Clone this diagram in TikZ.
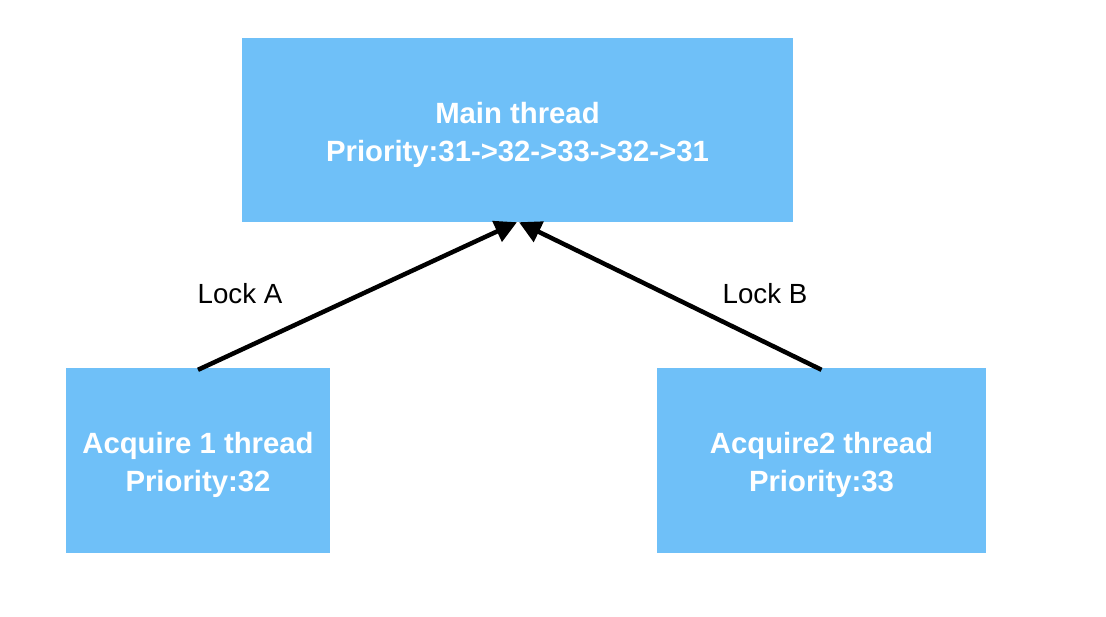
\documentclass[tikz,border=0pt]{standalone}
\usepackage{fontspec}
\setmainfont{Liberation Sans}
\usetikzlibrary{positioning, arrows.meta}
\definecolor{ThreadBlue}{RGB}{111,192,248}
\newcommand{\tstrut}{\rule{0pt}{31pt}}

\begin{document}
\begin{tikzpicture}[x=1pt, y=-1pt]
        \tikzset{ thr/.style ={fill=ThreadBlue, draw=none, text=white, align=center, font=\fontsize{29.3}{38}\selectfont\bfseries, inner sep=0pt} }
        \tikzset{ lck/.style ={text=black, font=\fontsize{27.7}{32}\selectfont, inner sep=0pt} }
        \tikzset{ lnk/.style ={-{Triangle[length=22pt,width=22pt]}, line width=4.5pt} }
        \useasboundingbox (0,0) rectangle (1106,616);

        \node[thr, minimum width=551pt, minimum height=184pt] (main) at (517.5, 130.0) {\tstrut Main thread\\Priority:31->32->33->32->31};
        \node[thr, minimum width=264pt, minimum height=185pt] (acq1) at (198.0, 460.5) {\tstrut Acquire 1 thread\\Priority:32};
        \node[thr, minimum width=329pt, minimum height=185pt] (acq2) at (821.5, 460.5) {\tstrut Acquire2 thread\\Priority:33};

        \draw[lnk] ([yshift=-2pt]acq1.north) -- ([xshift=-0.5pt]main.south);
        \draw[lnk] ([yshift=-2pt]acq2.north) -- ([xshift=1.5pt]main.south);

        \node[lck] (lockA) at (240, 294) {Lock A};
        \node[lck] (lockB) at (765, 294) {Lock B};
      \end{tikzpicture}
\end{document}
